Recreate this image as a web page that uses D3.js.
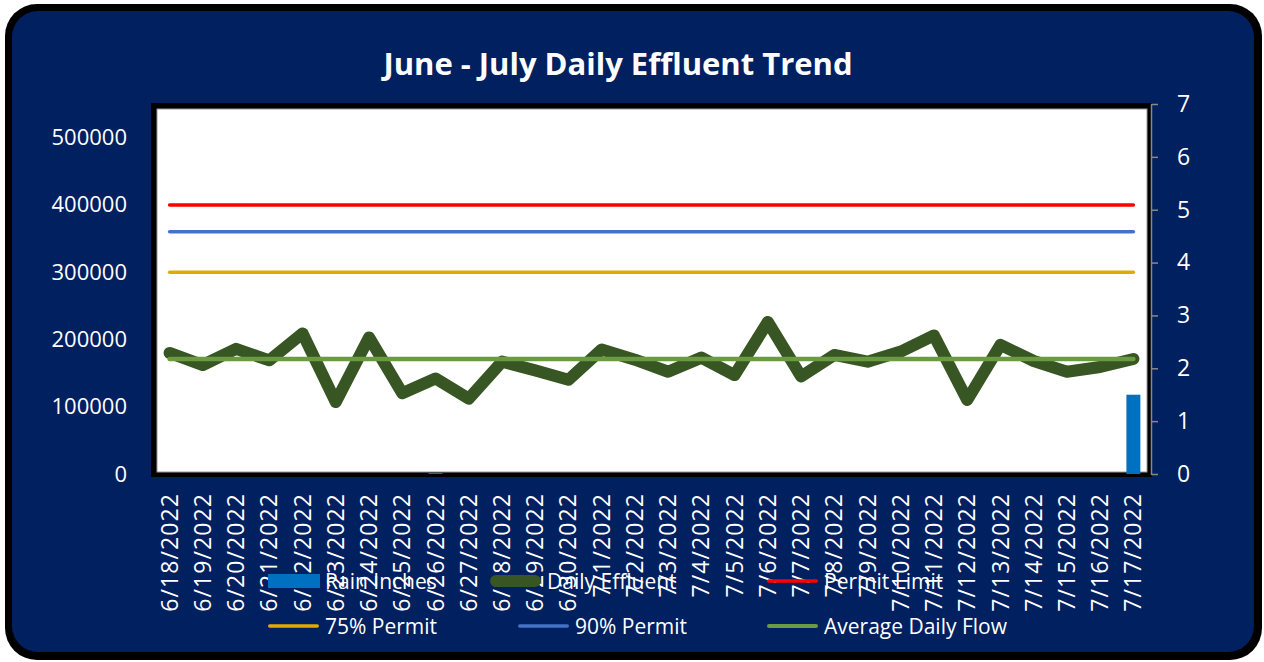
<!DOCTYPE html>
<html>
<head>
<meta charset="utf-8">
<script src="https://cdn.jsdelivr.net/npm/d3@7"></script>
<style>
  html, body { margin: 0; padding: 0; background: #fff; }
  svg { display: block; font-family: "Open Sans", sans-serif; }
</style>
</head>
<body>
<svg id="chart" width="1264" height="662"></svg>
<script>
"use strict";

const dates = [
  "6/18/2022", "6/19/2022", "6/20/2022", "6/21/2022", "6/22/2022", "6/23/2022",
  "6/24/2022", "6/25/2022", "6/26/2022", "6/27/2022", "6/28/2022", "6/29/2022",
  "6/30/2022", "7/1/2022", "7/2/2022", "7/3/2022", "7/4/2022", "7/5/2022",
  "7/6/2022", "7/7/2022", "7/8/2022", "7/9/2022", "7/10/2022", "7/11/2022",
  "7/12/2022", "7/13/2022", "7/14/2022", "7/15/2022", "7/16/2022", "7/17/2022"
];

const dailyEffluent = [
  180000, 162000, 186000, 169000, 209000, 107000,
  203000, 120000, 142000, 112000, 167000, 154000,
  140000, 185000, 170000, 152000, 173000, 147000,
  226000, 145000, 177000, 167000, 182000, 206000,
  110000, 192000, 168000, 152000, 159000, 171000
];

const rainInches = [
  0, 0, 0, 0, 0, 0,
  0, 0, 0.02, 0, 0, 0,
  0, 0, 0, 0, 0, 0,
  0, 0, 0, 0, 0, 0,
  0, 0, 0, 0, 0, 1.5
];

const permitLimit = 400000;
const permit90 = 360000;
const permit75 = 300000;
const averageDailyFlow = 171000;

const leftTicks = [0, 100000, 200000, 300000, 400000, 500000];
const rightTicks = [0, 1, 2, 3, 4, 5, 6, 7];

const colors = {
  rain: "#0070C0",
  effluent: "#375623",
  limit: "#FF0000",
  p75: "#E2AA00",
  p90: "#4472C4",
  avg: "#6A9A41"
};

const svg = d3.select("#chart");

// outer frame
svg.append("rect")
  .attr("x", 5).attr("y", 4).attr("width", 1257).attr("height", 656)
  .attr("rx", 32).attr("fill", "#000");
svg.append("rect")
  .attr("x", 12).attr("y", 11).attr("width", 1242).attr("height", 641)
  .attr("rx", 26).attr("fill", "#002060");

svg.append("text")
  .attr("x", 618).attr("y", 75)
  .attr("text-anchor", "middle")
  .attr("fill", "#fff")
  .attr("font-size", 31)
  .attr("font-weight", "bold")
  .text("June - July Daily Effluent Trend");

const plot = { left: 153, right: 1150, top: 104, bottom: 474 };

const x = d3.scaleBand()
  .domain(dates)
  .range([plot.left, plot.right])
  .padding(0);

const yLeft = d3.scaleLinear().domain([0, 550000]).range([plot.bottom, plot.top]);
const yRight = d3.scaleLinear().domain([0, 7]).range([plot.bottom, plot.top]);

const cx = (d) => x(d) + x.bandwidth() / 2;

// plot area with shadow-like border
svg.append("rect")
  .attr("x", plot.left - 2).attr("y", plot.top - 1)
  .attr("width", plot.right - plot.left + 4).attr("height", plot.bottom - plot.top + 4)
  .attr("fill", "#000");
svg.append("rect")
  .attr("x", plot.left + 4).attr("y", plot.top + 5)
  .attr("width", plot.right - plot.left - 7).attr("height", plot.bottom - plot.top - 7)
  .attr("fill", "#fff")
  .attr("stroke", "#999")
  .attr("stroke-width", 1);

// left axis labels
const leftAxis = svg.append("g")
  .attr("transform", `translate(${plot.left - 26},0)`)
  .call(d3.axisLeft(yLeft).tickValues(leftTicks).tickSize(0).tickPadding(0).tickFormat(d3.format("d")));
leftAxis.select(".domain").remove();
leftAxis.selectAll("text")
  .attr("fill", "#fff")
  .attr("font-size", 22)
  .attr("font-family", "Open Sans");

// right axis
const rightAxis = svg.append("g")
  .attr("transform", `translate(${plot.right + 1},0)`)
  .call(d3.axisRight(yRight).tickValues(rightTicks).tickFormat(d3.format("d"))
    .tickSize(7).tickSizeOuter(0).tickPadding(19));
rightAxis.select(".domain").attr("stroke", "#888").attr("stroke-width", 1.5);
rightAxis.selectAll(".tick line").attr("stroke", "#888").attr("stroke-width", 1.5);
rightAxis.selectAll("text")
  .attr("fill", "#fff")
  .attr("font-size", 23)
  .attr("font-family", "Open Sans");

// category labels
const xAxis = svg.append("g")
  .attr("transform", `translate(0,${plot.bottom})`)
  .call(d3.axisBottom(x).tickSize(0).tickPadding(0));
xAxis.select(".domain").remove();
xAxis.selectAll("text")
  .attr("fill", "#fff")
  .attr("font-size", 23)
  .attr("font-family", "Open Sans")
  .attr("text-anchor", "end")
  .attr("dy", "0.35em")
  .attr("transform", "translate(0,19) rotate(-90)")
  .attr("letter-spacing", 1.1)
  .attr("y", 0)
  .attr("x", 0);

// rain bars
const barW = x.bandwidth() * 0.42;
svg.append("g")
  .selectAll("rect")
  .data(rainInches)
  .join("rect")
  .attr("x", (d, i) => cx(dates[i]) - barW / 2)
  .attr("y", (d) => yRight(d))
  .attr("width", barW)
  .attr("height", (d) => yRight(0) - yRight(d))
  .attr("fill", colors.rain);

// permit lines
const hLines = [
  { v: permit75, c: colors.p75, w: 3.5 },
  { v: permit90, c: colors.p90, w: 3.5 },
  { v: permitLimit, c: colors.limit, w: 3.5 }
];
svg.append("g")
  .selectAll("line")
  .data(hLines)
  .join("line")
  .attr("x1", cx(dates[0]))
  .attr("x2", cx(dates[dates.length - 1]))
  .attr("y1", (d) => yLeft(d.v))
  .attr("y2", (d) => yLeft(d.v))
  .attr("stroke", (d) => d.c)
  .attr("stroke-width", (d) => d.w)
  .attr("stroke-linecap", "round");

// daily effluent
const line = d3.line()
  .x((d, i) => cx(dates[i]))
  .y((d) => yLeft(d));
svg.append("path")
  .datum(dailyEffluent)
  .attr("d", line)
  .attr("fill", "none")
  .attr("stroke", colors.effluent)
  .attr("stroke-width", 12)
  .attr("stroke-linejoin", "round")
  .attr("stroke-linecap", "round");

// average daily flow
svg.append("line")
  .attr("x1", cx(dates[0]))
  .attr("x2", cx(dates[dates.length - 1]))
  .attr("y1", yLeft(averageDailyFlow))
  .attr("y2", yLeft(averageDailyFlow))
  .attr("stroke", colors.avg)
  .attr("stroke-width", 4.5)
  .attr("stroke-linecap", "round");

// legend
const legendItems = [
  { label: "Rain Inches", type: "bar", c: colors.rain, x: 268, y: 581 },
  { label: "Daily Effluent", type: "line", c: colors.effluent, w: 12, x: 490, y: 581 },
  { label: "Permit Limit", type: "line", c: colors.limit, w: 3.5, x: 767, y: 581 },
  { label: "75% Permit", type: "line", c: colors.p75, w: 3.5, x: 268, y: 626 },
  { label: "90% Permit", type: "line", c: colors.p90, w: 3.5, x: 518, y: 626 },
  { label: "Average Daily Flow", type: "line", c: colors.avg, w: 4, x: 767, y: 626 }
];

const legend = svg.append("g")
  .selectAll("g")
  .data(legendItems)
  .join("g")
  .attr("transform", (d) => `translate(${d.x},${d.y})`);

legend.filter((d) => d.type === "bar")
  .append("rect")
  .attr("x", 0).attr("y", -7).attr("width", 52).attr("height", 14)
  .attr("fill", (d) => d.c);

legend.filter((d) => d.type === "line")
  .append("line")
  .attr("x1", (d) => d.w / 2).attr("x2", (d) => 51 - d.w / 2)
  .attr("y1", 0).attr("y2", 0)
  .attr("stroke", (d) => d.c)
  .attr("stroke-width", (d) => d.w)
  .attr("stroke-linecap", "round");

legend.append("text")
  .attr("x", 57)
  .attr("y", 0)
  .attr("dy", "0.36em")
  .attr("fill", "#fff")
  .attr("font-size", 21)
  .text((d) => d.label);
</script>
</body>
</html>
